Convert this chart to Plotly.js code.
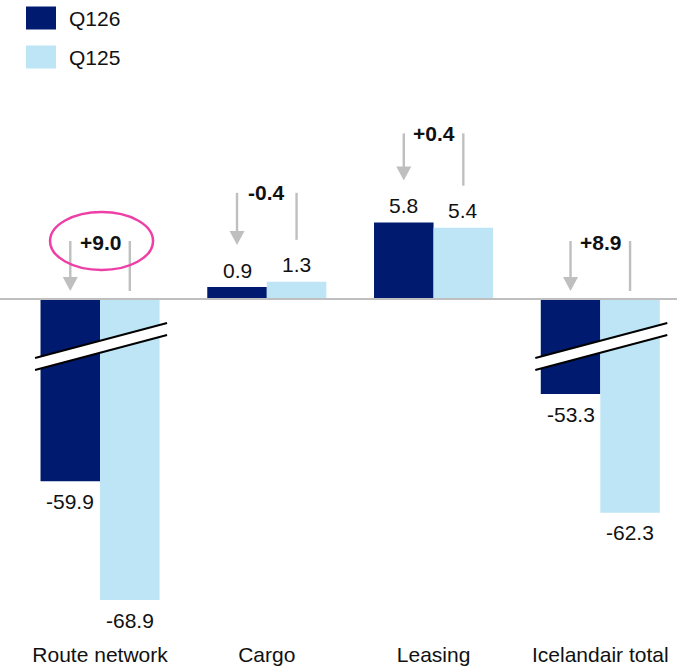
<!DOCTYPE html>
<html>
<head>
<meta charset="utf-8">
<script src="https://cdn.plot.ly/plotly-3.0.1.min.js"></script>
<style>
  html, body { margin: 0; padding: 0; background: #ffffff; }
  #chart { width: 677px; height: 668px; }
</style>
</head>
<body>
<div id="chart"></div>
<script>
// Operating result by segment, Q1 2026 vs Q1 2025
const categories = ['Route network', 'Cargo', 'Leasing', 'Icelandair total'];
const q126 = [-59.9, 0.9, 5.8, -53.3];
const q125 = [-68.9, 1.3, 5.4, -62.3];
const deltaLabels = ['+9.0', '-0.4', '+0.4', '+8.9'];
const seriesNames = ['Q126', 'Q125'];

const NAVY = '#001a70';
const LIGHT = '#bde5f5';
const GREY = '#bfbfbf';
const TEXT = '#111111';
const FONT = 'Arial, "Liberation Sans", sans-serif';

// Broken value axis: positive panel above the zero line, negative panel below it,
// with the negative panel starting at BREAK_TOP instead of 0.
const POS_MAX = 15.83;
const BREAK_TOP = -46.1;
const NEG_MIN = -71.93;
const SPLIT = 0.62;     // paper fraction where the zero line sits
const BARGAP = 0.286;
const OFF = (1 - BARGAP) / 4; // centre offset of each bar inside a group

function barTrace(vals, color, name, axis) {
  return {
    type: 'bar', x: categories, y: vals, name: name, yaxis: axis,
    marker: { color: color, line: { width: 0 } },
    hoverinfo: 'skip', showlegend: false
  };
}

const data = [
  barTrace(q126, NAVY, seriesNames[0], 'y'),
  barTrace(q125, LIGHT, seriesNames[1], 'y'),
  barTrace(q126, NAVY, seriesNames[0], 'y2'),
  barTrace(q125, LIGHT, seriesNames[1], 'y2')
];

const shapes = [];
const annotations = [];

// zero line across the full width
shapes.push({ type: 'line', xref: 'paper', yref: 'paper', x0: 0, x1: 1, y0: SPLIT, y1: SPLIT,
  line: { color: GREY, width: 2 } });

function vline(x, anchor, y0, y1) {
  shapes.push({ type: 'line', xref: 'x', yref: 'y', x0: x, x1: x,
    ysizemode: 'pixel', yanchor: anchor, y0: y0, y1: y1,
    line: { color: GREY, width: 2.4 } });
}
function arrowHead(x, anchor, tip) {
  shapes.push({ type: 'path', xref: 'x', yref: 'y',
    xsizemode: 'pixel', xanchor: x, ysizemode: 'pixel', yanchor: anchor,
    path: `M -7.5,${tip + 14} L 7.5,${tip + 14} L 0,${tip} Z`,
    fillcolor: GREY, line: { width: 0 } });
}

categories.forEach((c, i) => {
  const series = [q126[i], q125[i]];
  // value labels
  series.forEach((v, s) => {
    const pos = v >= 0;
    annotations.push({
      x: i + (s === 0 ? -OFF : OFF), xref: 'x',
      y: v, yref: pos ? 'y' : 'y2',
      yshift: pos ? 17 : -20, yanchor: 'middle', xanchor: 'center',
      text: v.toFixed(1), showarrow: false,
      font: { family: FONT, size: 21, color: TEXT }
    });
  });

  // change bracket: arrow into the current-year bar, plain line from last year
  const neg = series[0] < 0;
  const xl = i - OFF, xr = i + OFF;
  if (neg) {
    const top = 58;
    vline(xl, 0, 20, top);
    arrowHead(xl, 0, 8);
    vline(xr, 0, 8, top);
    annotations.push({ x: i, xref: 'x', y: 0, yref: 'y', yshift: 57,
      text: '<b>' + deltaLabels[i] + '</b>', showarrow: false,
      font: { family: FONT, size: 21, color: TEXT } });
  } else {
    const hi = Math.max(series[0], series[1]);
    const topPx = 89;
    // convert the top offset to be relative to each bar's own value
    const pxPerUnit = (668 - 90 - 28) * (1 - SPLIT) / POS_MAX;
    const lTop = topPx + (hi - series[0]) * pxPerUnit;
    const rTop = topPx + (hi - series[1]) * pxPerUnit;
    vline(xl, series[0], 54, lTop);
    arrowHead(xl, series[0], 42);
    vline(xr, series[1], 42, rTop);
    annotations.push({ x: i, xref: 'x', y: hi, yref: 'y', yshift: topPx,
      text: '<b>' + deltaLabels[i] + '</b>', showarrow: false,
      font: { family: FONT, size: 21, color: TEXT } });
  }

  // axis-break marks on the clipped negative bars
  if (neg) {
    shapes.push({ type: 'path', xref: 'x', yref: 'y2',
      xsizemode: 'pixel', xanchor: i, ysizemode: 'pixel', yanchor: BREAK_TOP,
      path: 'M -65,-59 L 67,-24 L 67,-36 L -65,-71 Z',
      fillcolor: '#ffffff', line: { width: 0 } });
    shapes.push({ type: 'path', xref: 'x', yref: 'y2',
      xsizemode: 'pixel', xanchor: i, ysizemode: 'pixel', yanchor: BREAK_TOP,
      path: 'M -65,-59 L 67,-24 M -65,-71 L 67,-36',
      line: { color: '#000000', width: 2 } });
  }
});

// highlight around the route network change
shapes.push({ type: 'circle', xref: 'x', yref: 'y',
  xsizemode: 'pixel', xanchor: 0, x0: -50, x1: 53,
  ysizemode: 'pixel', yanchor: 0, y0: 29, y1: 87,
  line: { color: '#ee3fa6', width: 2.5 } });

// legend
[[NAVY, 18], [LIGHT, 57]].forEach(([col, cy], k) => {
  shapes.push({ type: 'rect', xref: 'paper', yref: 'paper',
    x0: 26 / 677, x1: 56 / 677,
    ysizemode: 'pixel', yanchor: 1, y0: 90 - cy + 11.5, y1: 90 - cy - 11.5,
    fillcolor: col, line: { width: 0 } });
  annotations.push({ x: 67 / 677, xref: 'paper', xanchor: 'left',
    y: 1, yref: 'paper', yshift: 90 - cy, yanchor: 'middle',
    text: seriesNames[k], showarrow: false,
    font: { family: FONT, size: 21, color: TEXT } });
});

const layout = {
  width: 677, height: 668,
  margin: { l: 0, r: 0, t: 90, b: 28 },
  paper_bgcolor: '#ffffff', plot_bgcolor: '#ffffff',
  barmode: 'group', bargap: BARGAP, bargroupgap: 0,
  showlegend: false, hovermode: false,
  xaxis: {
    type: 'category', categoryorder: 'array', categoryarray: categories,
    range: [-0.6, 3.46], anchor: 'y2',
    showgrid: false, zeroline: false, showline: false, ticks: '',
    tickfont: { family: FONT, size: 21, color: TEXT }
  },
  yaxis: { domain: [SPLIT, 1], range: [0, POS_MAX], visible: false, fixedrange: true },
  yaxis2: { domain: [0, SPLIT], range: [NEG_MIN, BREAK_TOP], visible: false, fixedrange: true },
  shapes: shapes,
  annotations: annotations
};

Plotly.newPlot('chart', data, layout, { displayModeBar: false, staticPlot: true });
</script>
</body>
</html>
